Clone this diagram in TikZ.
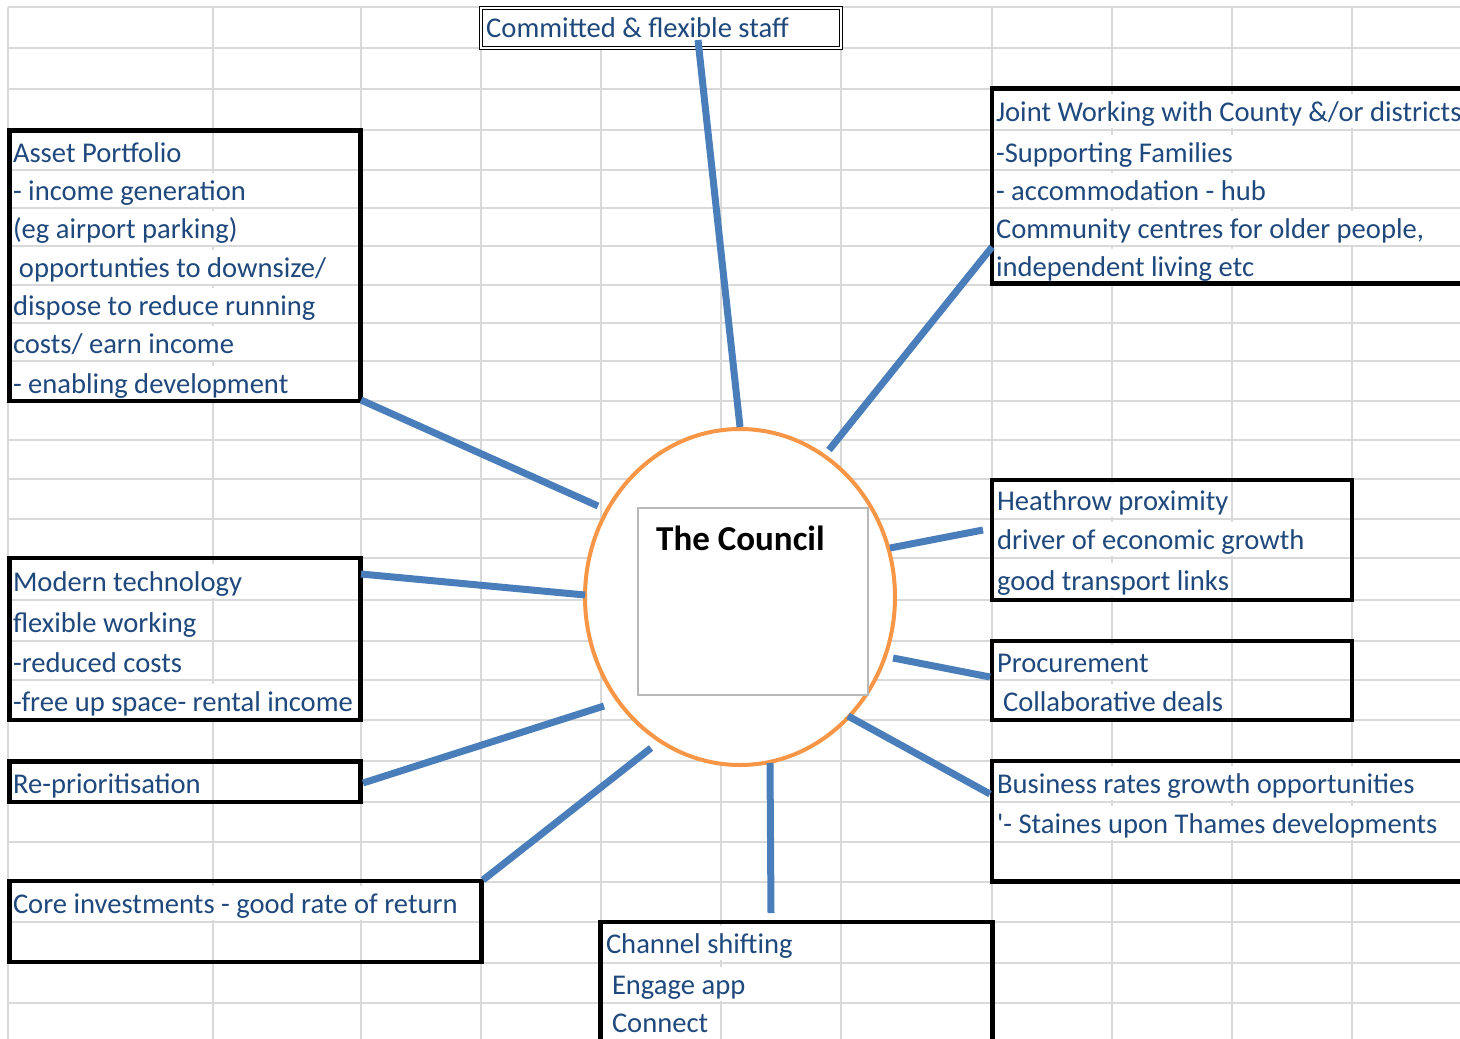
\documentclass[tikz,border=0pt]{standalone}
\usepackage{fontspec}
\setmainfont{Carlito}
\usetikzlibrary{shapes.geometric}
\definecolor{gridgray}{HTML}{D9D9D9}
\definecolor{txtblue}{HTML}{1F497D}
\definecolor{linkblue}{HTML}{4A7EBB}
\definecolor{ringorange}{HTML}{F79646}
\begin{document}
\begin{tikzpicture}[x=1pt,y=-1pt,
  gridline/.style={draw=gridgray,line width=1.5pt},
  txt/.style={anchor=base west,fill=white,inner xsep=0pt,inner ysep=0pt,outer sep=0pt,
    text height=27pt,text depth=7pt,text=txtblue,font=\fontsize{28.6}{33}\selectfont},
  boxline/.style={draw=black,line width=4.5pt,inner sep=0pt,outer sep=0pt,anchor=north west},
  link/.style={draw=linkblue,line width=7pt}]
\useasboundingbox (0,0) rectangle (1460,1039);
\clip (0,0) rectangle (1460,1039);
% spreadsheet grid
\foreach \gx in {8,213,361,481,601,721,841,992,1112,1232,1352}
  \draw[gridline] (\gx,7) -- (\gx,1039);
\foreach \gy in {7,48,89,130,170,208,246,285,323,361,401,440,479,519,558,600,641,680,720,761,802,842,882,922,963,1003}
  \draw[gridline] (8,\gy) -- (1460,\gy);

% texts
\node[txt] (a1) at (13,162) {Asset Portfolio};
\node[txt] (a2) at (13,200) {- income generation};
\node[txt] (a3) at (13,238) {(eg airport parking)};
\node[txt] (a4) at (19,277) {opportunties to downsize/};
\node[txt] (a5) at (13,315) {dispose to reduce running};
\node[txt] (a6) at (13,353) {costs/ earn income};
\node[txt] (a7) at (13,393) {- enabling development};

\node[txt] (j1) at (996,121) {Joint Working with County \&/or districts};
\node[txt] (j2) at (996,162) {-Supporting Families};
\node[txt] (j3) at (996,200) {- accommodation - hub};
\node[txt] (j4) at (996,238) {Community centres for older people,};
\node[txt] (j5) at (996,276) {independent living etc};

\node[txt] (m1) at (13,591) {Modern technology};
\node[txt] (m2) at (13,632) {flexible working};
\node[txt] (m3) at (13,672) {-reduced costs};
\node[txt] (m4) at (13,711) {-free up space- rental income};

\node[txt] (h1) at (997,510) {Heathrow proximity};
\node[txt] (h2) at (997,549) {driver of economic growth};
\node[txt] (h3) at (997,590) {good transport links};

\node[txt] (p1) at (997,672) {Procurement};
\node[txt] (p2) at (1003,711) {Collaborative deals};

\node[txt] (b1) at (997,793) {Business rates growth opportunities};
\node[txt] (b2) at (997,833) {\textquotesingle- Staines upon Thames developments};

\node[txt] (r1) at (13,793) {Re-prioritisation};
\node[txt] (c1) at (13,913) {Core investments - good rate of return};

\node[txt] (s1) at (606,953) {Channel shifting};
\node[txt] (s2) at (612,994) {Engage app};
\node[txt] (s3) at (612,1032) {Connect};

% boxes
\node[boxline,minimum width=351pt,minimum height=270.5pt] (asset) at (9.5,130.5) {};
\node[boxline,minimum width=520pt,minimum height=195pt] (joint) at (992,88.5) {};
\node[boxline,minimum width=351pt,minimum height=162pt] (modern) at (9.5,558) {};
\node[boxline,minimum width=360pt,minimum height=120pt] (heathrow) at (992,480) {};
\node[boxline,minimum width=360pt,minimum height=79pt] (procure) at (992,641) {};
\node[boxline,minimum width=520pt,minimum height=120.5pt] (business) at (992,761) {};
\node[boxline,minimum width=351pt,minimum height=40.5pt] (reprio) at (9.5,761.5) {};
\node[boxline,minimum width=472pt,minimum height=81pt] (core) at (9.5,881) {};
\node[boxline,minimum width=392pt,minimum height=140pt] (channel) at (600.5,922) {};

% committed staff box (double border)
\node[draw=black,double,double distance=2pt,line width=1.3pt,fill=white,inner sep=0pt,outer sep=0pt,
  anchor=north west,minimum width=360pt,minimum height=40pt] (staff) at (481,8) {};
\node[anchor=base west,inner sep=0pt,text=txtblue,font=\fontsize{28.6}{33}\selectfont] (st) at (486,37) {Committed \& flexible staff};

% central circle
\node[ellipse,draw=ringorange,line width=4pt,fill=white,inner sep=0pt,
  minimum width=310pt,minimum height=336pt] (council) at (740,597) {};
\node[draw=black!28,line width=1.2pt,fill=white,inner sep=0pt,outer sep=0pt,anchor=north west,
  minimum width=230pt,minimum height=187pt] (councilbox) at (638,508) {};
\node[anchor=base west,inner sep=0pt,font=\bfseries\fontsize{35}{42}\selectfont] (title) at (656,550) {The Council};

% connector end points
\coordinate (staffEnd) at (698,40);
\coordinate (jointA) at (829,450);  \coordinate (jointB) at (992,247);
\coordinate (assetA) at (361,400);  \coordinate (assetB) at (598,506);
\coordinate (modA) at (361,574);    \coordinate (modB) at (585,595);
\coordinate (heaA) at (890,548);    \coordinate (heaB) at (983,530);
\coordinate (procA) at (893,658);   \coordinate (procB) at (990,677);
\coordinate (busA) at (848,716);    \coordinate (busB) at (990,794);
\coordinate (repA) at (363,783);    \coordinate (repB) at (604,706);
\coordinate (coreA) at (483,880);   \coordinate (coreB) at (651,748);
\coordinate (chanA) at (770,763);   \coordinate (chanB) at (771,913);

% connectors
\draw[link] (council.north) -- (staffEnd);
\draw[link] (jointA) -- (jointB);
\draw[link] (assetA) -- (assetB);
\draw[link] (modA) -- (modB);
\draw[link] (heaA) -- (heaB);
\draw[link] (procA) -- (procB);
\draw[link] (busA) -- (busB);
\draw[link] (repA) -- (repB);
\draw[link] (coreA) -- (coreB);
\draw[link] (chanA) -- (chanB);
\end{tikzpicture}
\end{document}
